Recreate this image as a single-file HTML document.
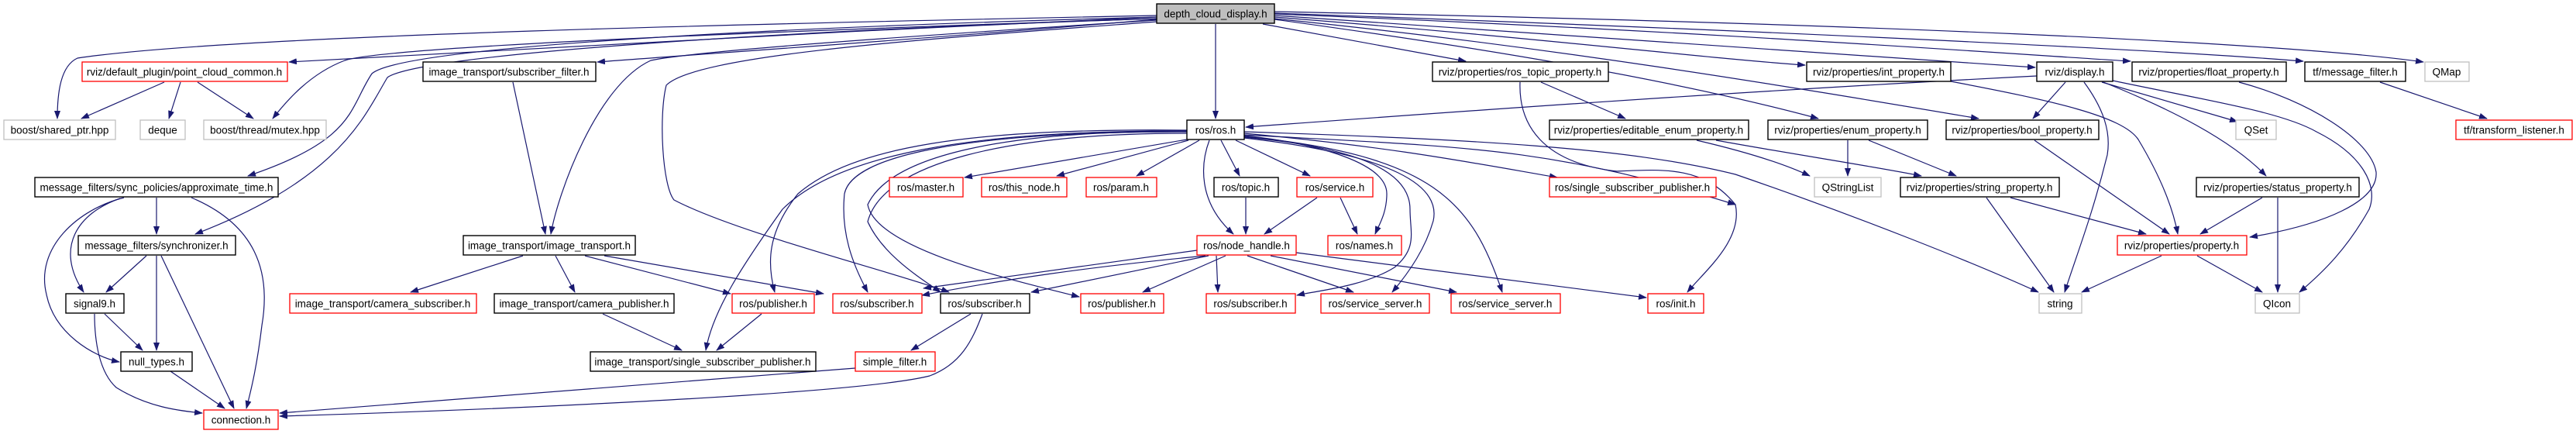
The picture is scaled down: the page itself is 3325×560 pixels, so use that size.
<!DOCTYPE html>
<html><head><meta charset="utf-8"><style>
html,body{margin:0;padding:0;background:#fff;}
svg{display:block}
text{font-family:"Liberation Sans",sans-serif;font-size:13.5px;fill:#000;text-anchor:middle;}
.e{fill:none;stroke:#191970;stroke-width:1.2;marker-end:url(#a)}
.n{fill:#fff;stroke:#000;stroke-width:1.4}
.r{fill:#fff;stroke:#ff0000;stroke-width:1.3}
.g{fill:#fff;stroke:#bfbfbf;stroke-width:1.3}
.root{fill:#bfbfbf;stroke:#000;stroke-width:1.4}
</style></head><body>
<svg width="3325" height="560" viewBox="0 0 3325 560" xmlns="http://www.w3.org/2000/svg">
<defs><marker id="a" markerWidth="11" markerHeight="8" refX="10" refY="4" orient="auto" markerUnits="userSpaceOnUse"><path d="M0,0 L11,4 L0,8 z" fill="#191970"/></marker></defs>
<g>
<!-- edges from depth -->
<path class="e" d="M1493,20 C1000,30 300,45 100,75 C78,85 74,120 74,153"/>
<path class="e" d="M1493,22 C1100,40 500,70 373,80"/>
<path class="e" d="M1493,24 C1000,40 500,60 445,78 C400,95 370,130 352,153"/>
<path class="e" d="M1493,22 C1000,35 520,60 480,95 C450,140 460,180 320,227"/>
<path class="e" d="M1493,24 C1000,40 540,70 500,100 C470,150 440,230 252,302"/>
<path class="e" d="M1493,25 C1200,50 900,70 771,80"/>
<path class="e" d="M1493,26 C1200,45 900,65 840,78 C770,110 720,250 711,302"/>
<path class="e" d="M1493,28 C1200,50 900,70 860,110 C850,150 855,240 870,258 C950,300 1150,350 1225,377"/>
<path class="e" d="M1569,31 L1569,153"/>
<path class="e" d="M1630,31 L1892,79"/>
<path class="e" d="M1645,22 C2000,50 2200,75 2330,84"/>
<path class="e" d="M1645,20 C2100,50 2500,80 2627,87"/>
<path class="e" d="M1645,18 C2200,40 2600,70 2750,79"/>
<path class="e" d="M1645,17 C2300,40 2800,65 2973,79"/>
<path class="e" d="M1645,15 C2400,30 2950,55 3128,80"/>
<path class="e" d="M1645,25 C1900,60 2150,100 2347,153"/>
<path class="e" d="M1645,24 C2000,60 2300,110 2554,153"/>
<!-- point cloud common -->
<path class="e" d="M212,106 L105,153"/>
<path class="e" d="M233,106 L218,153"/>
<path class="e" d="M255,106 L327,153"/>
<!-- approx time -->
<path class="e" d="M202,255 L202,302"/>
<path class="e" d="M155,256 C100,275 70,320 108,377"/>
<path class="e" d="M160,255 C100,270 45,320 60,380 C70,430 120,460 154,467"/>
<path class="e" d="M247,255 C330,290 350,350 338,420 C332,470 325,500 318,527"/>
<!-- synchronizer -->
<path class="e" d="M189,330 L137,377"/>
<path class="e" d="M202,330 L202,452"/>
<path class="e" d="M208,330 L302,527"/>
<!-- signal9 / null types -->
<path class="e" d="M135,405 L184,452"/>
<path class="e" d="M122,405 C122,440 128,480 150,500 C190,525 230,530 261,533"/>
<path class="e" d="M220,479 L290,527"/>
<!-- image transport -->
<path class="e" d="M662,106 L704,302"/>
<path class="e" d="M675,330 L530,377"/>
<path class="e" d="M717,330 L742,377"/>
<path class="e" d="M755,330 L943,379"/>
<path class="e" d="M780,330 L1063,379"/>
<path class="e" d="M778,405 L880,452"/>
<path class="e" d="M983,405 L925,452"/>
<!-- ros/subscriber black -->
<path class="e" d="M1253,405 L1176,452"/>
<path class="e" d="M1268,405 C1255,440 1240,470 1200,485 C1100,510 600,530 361,537"/>
<path class="e" d="M1104,475 L361,533"/>
<!-- ros.h -->
<path class="e" d="M1532,180 L1245,229"/>
<path class="e" d="M1534,181 L1364,227"/>
<path class="e" d="M1548,181 L1467,227"/>
<path class="e" d="M1576,181 L1600,227"/>
<path class="e" d="M1595,181 L1691,227"/>
<path class="e" d="M1561,181 C1550,210 1545,260 1592,302"/>
<path class="e" d="M1606,172 C1800,190 1900,210 2010,229"/>
<path class="e" d="M1606,175 C1700,185 1790,210 1790,250 C1790,275 1780,290 1775,302"/>
<path class="e" d="M1606,177 C1750,190 1820,220 1820,270 C1820,300 1830,320 1800,345 C1760,370 1700,375 1674,381"/>
<path class="e" d="M1606,178 C1800,200 1860,240 1850,285 C1840,320 1820,350 1797,377"/>
<path class="e" d="M1606,176 C1850,200 1900,260 1939,377"/>
<path class="e" d="M1532,170 C1300,168 1150,200 1120,264 C1130,320 1300,360 1393,383"/>
<path class="e" d="M1532,172 C1300,172 1140,210 1120,286 C1140,330 1190,360 1214,377"/>
<path class="e" d="M1532,168 C1250,165 1100,190 1030,250 C990,300 990,340 1000,377"/>
<path class="e" d="M1532,170 C1250,170 1100,200 1090,250 C1085,300 1100,340 1120,377"/>
<path class="e" d="M1532,169 C1250,168 1080,200 1010,270 C960,340 920,400 911,452"/>
<path class="e" d="M1606,174 C1900,190 2000,190 2240,264"/>
<path class="e" d="M1606,170 C1900,180 2100,190 2240,225 C2400,280 2550,340 2631,377"/>
<!-- ros_topic_property -->
<path class="e" d="M1962,106 C1960,160 1990,210 2087,221 C2150,218 2200,215 2240,264 C2250,310 2200,350 2178,377"/>
<path class="e" d="M1989,106 L2098,153"/>
<!-- node handle -->
<path class="e" d="M1545,323 L1192,372"/>
<path class="e" d="M1556,330 C1400,345 1300,360 1190,381"/>
<path class="e" d="M1560,330 L1331,377"/>
<path class="e" d="M1582,330 L1475,377"/>
<path class="e" d="M1570,330 L1572,377"/>
<path class="e" d="M1610,330 L1747,377"/>
<path class="e" d="M1640,330 L1880,377"/>
<path class="e" d="M1673,326 L2125,384"/>
<path class="e" d="M1608,255 L1608,302"/>
<path class="e" d="M1700,255 L1632,302"/>
<path class="e" d="M1730,255 L1752,302"/>
<!-- display -->
<path class="e" d="M2629,98 C2200,120 1800,150 1608,164"/>
<path class="e" d="M2666,106 L2624,153"/>
<path class="e" d="M2690,106 C2715,140 2725,170 2720,200 C2700,280 2680,330 2665,377"/>
<path class="e" d="M2713,106 L2888,157"/>
<path class="e" d="M2715,106 C2800,140 2880,180 2925,227"/>
<path class="e" d="M2727,104 C2850,130 2944,144 2990,170 C3050,200 3070,240 3058,270 C3030,320 3000,350 2968,377"/>
<!-- properties -->
<path class="e" d="M2518,105 C2650,130 2740,150 2760,180 C2790,230 2805,270 2811,302"/>
<path class="e" d="M2890,106 C2980,130 3060,180 3067,222 C3070,260 3000,290 2904,306"/>
<path class="e" d="M2190,181 C2250,195 2300,210 2336,227"/>
<path class="e" d="M2215,181 C2320,200 2420,215 2480,227"/>
<path class="e" d="M2385,181 L2385,227"/>
<path class="e" d="M2412,181 L2525,227"/>
<path class="e" d="M2626,181 L2800,302"/>
<path class="e" d="M2564,255 L2651,377"/>
<path class="e" d="M2595,255 L2770,302"/>
<path class="e" d="M2920,255 L2840,302"/>
<path class="e" d="M2940,255 L2940,377"/>
<path class="e" d="M2790,330 L2687,377"/>
<path class="e" d="M2836,330 L2920,377"/>
<path class="e" d="M3072,106 L3210,153"/>
</g>
<g>
<rect class="root" x="1493" y="5" width="152" height="25"/><text x="1569" y="22.5">depth_cloud_display.h</text>
<rect class="r" x="106" y="80" width="265" height="25"/><text x="238" y="97.5">rviz/default_plugin/point_cloud_common.h</text>
<rect class="n" x="546" y="80" width="223" height="25"/><text x="657" y="97.5">image_transport/subscriber_filter.h</text>
<rect class="n" x="1849" y="80" width="227" height="25"/><text x="1962" y="97.5">rviz/properties/ros_topic_property.h</text>
<rect class="n" x="2332" y="80" width="186" height="25"/><text x="2425" y="97.5">rviz/properties/int_property.h</text>
<rect class="n" x="2629" y="80" width="98" height="25"/><text x="2678" y="97.5">rviz/display.h</text>
<rect class="n" x="2752" y="80" width="199" height="25"/><text x="2851" y="97.5">rviz/properties/float_property.h</text>
<rect class="n" x="2975" y="80" width="130" height="25"/><text x="3040" y="97.5">tf/message_filter.h</text>
<rect class="g" x="3130" y="80" width="57" height="25"/><text x="3158" y="97.5">QMap</text>

<rect class="g" x="5" y="155" width="144" height="25"/><text x="77" y="172.5">boost/shared_ptr.hpp</text>
<rect class="g" x="181" y="155" width="58" height="25"/><text x="210" y="172.5">deque</text>
<rect class="g" x="263" y="155" width="158" height="25"/><text x="342" y="172.5">boost/thread/mutex.hpp</text>
<rect class="n" x="1532" y="155" width="74" height="25"/><text x="1569" y="172.5">ros/ros.h</text>
<rect class="n" x="2000" y="155" width="257" height="25"/><text x="2128" y="172.5">rviz/properties/editable_enum_property.h</text>
<rect class="n" x="2282" y="155" width="206" height="25"/><text x="2385" y="172.5">rviz/properties/enum_property.h</text>
<rect class="n" x="2512" y="155" width="197" height="25"/><text x="2610" y="172.5">rviz/properties/bool_property.h</text>
<rect class="g" x="2886" y="155" width="52" height="25"/><text x="2912" y="172.5">QSet</text>
<rect class="r" x="3170" y="155" width="150" height="25"/><text x="3245" y="172.5">tf/transform_listener.h</text>

<rect class="n" x="45" y="229" width="314" height="25"/><text x="202" y="246.5">message_filters/sync_policies/approximate_time.h</text>
<rect class="r" x="1148" y="229" width="95" height="25"/><text x="1195" y="246.5">ros/master.h</text>
<rect class="r" x="1267" y="229" width="110" height="25"/><text x="1322" y="246.5">ros/this_node.h</text>
<rect class="r" x="1402" y="229" width="91" height="25"/><text x="1447" y="246.5">ros/param.h</text>
<rect class="n" x="1567" y="229" width="83" height="25"/><text x="1608" y="246.5">ros/topic.h</text>
<rect class="r" x="1674" y="229" width="98" height="25"/><text x="1723" y="246.5">ros/service.h</text>
<rect class="r" x="2000" y="229" width="215" height="25"/><text x="2107" y="246.5">ros/single_subscriber_publisher.h</text>
<rect class="g" x="2342" y="229" width="86" height="25"/><text x="2385" y="246.5">QStringList</text>
<rect class="n" x="2453" y="229" width="205" height="25"/><text x="2555" y="246.5">rviz/properties/string_property.h</text>
<rect class="n" x="2835" y="229" width="210" height="25"/><text x="2940" y="246.5">rviz/properties/status_property.h</text>

<rect class="n" x="101" y="304" width="203" height="25"/><text x="202" y="321.5">message_filters/synchronizer.h</text>
<rect class="n" x="598" y="304" width="222" height="25"/><text x="709" y="321.5">image_transport/image_transport.h</text>
<rect class="r" x="1545" y="304" width="128" height="25"/><text x="1609" y="321.5">ros/node_handle.h</text>
<rect class="r" x="1714" y="304" width="95" height="25"/><text x="1761" y="321.5">ros/names.h</text>
<rect class="r" x="2733" y="304" width="167" height="25"/><text x="2816" y="321.5">rviz/properties/property.h</text>

<rect class="n" x="85" y="379" width="75" height="25"/><text x="122" y="396.5">signal9.h</text>
<rect class="r" x="374" y="379" width="241" height="25"/><text x="494" y="396.5">image_transport/camera_subscriber.h</text>
<rect class="n" x="638" y="379" width="232" height="25"/><text x="754" y="396.5">image_transport/camera_publisher.h</text>
<rect class="r" x="945" y="379" width="106" height="25"/><text x="998" y="396.5">ros/publisher.h</text>
<rect class="r" x="1075" y="379" width="115" height="25"/><text x="1132" y="396.5">ros/subscriber.h</text>
<rect class="n" x="1214" y="379" width="115" height="25"/><text x="1271" y="396.5">ros/subscriber.h</text>
<rect class="r" x="1395" y="379" width="107" height="25"/><text x="1448" y="396.5">ros/publisher.h</text>
<rect class="r" x="1557" y="379" width="115" height="25"/><text x="1614" y="396.5">ros/subscriber.h</text>
<rect class="r" x="1705" y="379" width="140" height="25"/><text x="1775" y="396.5">ros/service_server.h</text>
<rect class="r" x="1873" y="379" width="141" height="25"/><text x="1943" y="396.5">ros/service_server.h</text>
<rect class="r" x="2127" y="379" width="72" height="25"/><text x="2163" y="396.5">ros/init.h</text>
<rect class="g" x="2632" y="379" width="55" height="25"/><text x="2659" y="396.5">string</text>
<rect class="g" x="2911" y="379" width="57" height="25"/><text x="2939" y="396.5">QIcon</text>

<rect class="n" x="156" y="454" width="92" height="25"/><text x="202" y="471.5">null_types.h</text>
<rect class="n" x="762" y="454" width="291" height="25"/><text x="907" y="471.5">image_transport/single_subscriber_publisher.h</text>
<rect class="r" x="1104" y="454" width="103" height="25"/><text x="1155" y="471.5">simple_filter.h</text>

<rect class="r" x="263" y="529" width="96" height="25"/><text x="311" y="546.5">connection.h</text>
</g>
</svg>
</body></html>
